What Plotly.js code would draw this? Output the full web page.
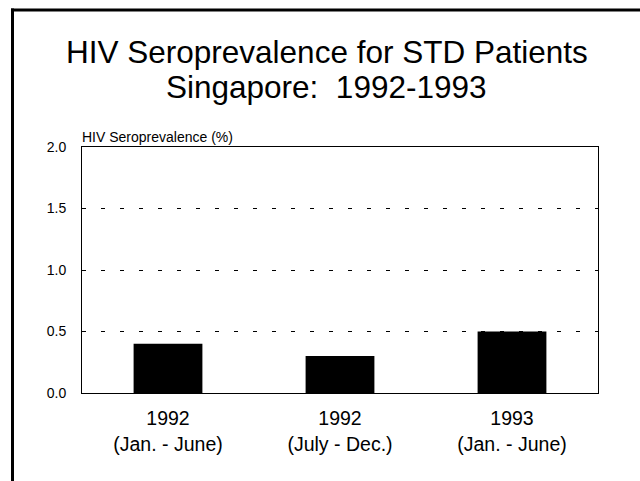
<!DOCTYPE html>
<html>
<head>
<meta charset="utf-8">
<script src="https://cdn.plot.ly/plotly-3.0.1.min.js"></script>
<style>html,body{margin:0;padding:0;background:#fff;}#chart{width:640px;height:481px;}</style>
</head>
<body>
<div id="chart"></div>
<script>
var categories = ["1992<br>(Jan. - June)", "1992<br>(July - Dec.)", "1993<br>(Jan. - June)"];
var seroprevalence = [0.4, 0.3, 0.5];
var yTickVals = [0.0, 0.5, 1.0, 1.5, 2.0];
var titleLine1 = "HIV Seroprevalence for STD Patients";
var titleLine2 = "Singapore:  1992-1993";
var yAxisTitle = "HIV Seroprevalence (%)";

var W = 640, H = 481;
var M = {l: 82, r: 42, t: 147, b: 88};
var pw = W - M.l - M.r, ph = H - M.t - M.b;
function px(x){ return (x - M.l) / pw; }
function py(y){ return (H - M.b - y) / ph; }

var FONT = "Arial, 'Liberation Sans', Helvetica, sans-serif";

var trace = {
  type: "bar",
  x: [0, 1, 2],
  y: seroprevalence,
  width: 0.4,
  marker: {color: "#000000", line: {color: "#000000", width: 0}},
  hoverinfo: "skip"
};

var layout = {
  width: W, height: H,
  margin: M,
  paper_bgcolor: "#fff",
  plot_bgcolor: "#fff",
  showlegend: false,
  font: {family: FONT, color: "#000"},
  xaxis: {
    range: [-0.5, 2.5],
    tickvals: [0, 1, 2],
    ticktext: categories,
    showgrid: false,
    zeroline: false,
    showline: true, mirror: true, linecolor: "#000", linewidth: 1,
    ticks: "",
    ticklabelstandoff: 8,
    tickfont: {family: FONT, size: 19.5, color: "#000"}
  },
  yaxis: {
    range: [0, 2],
    tickvals: yTickVals,
    tickformat: ".1f",
    showgrid: true, gridcolor: "#000", gridwidth: 1, griddash: "4px,15px",
    zeroline: false,
    showline: true, mirror: true, linecolor: "#000", linewidth: 1,
    ticks: "",
    ticklabelstandoff: 12,
    tickfont: {family: FONT, size: 14, color: "#000"}
  },
  annotations: [
    {text: titleLine1, xref: "paper", yref: "paper", x: px(326.5), y: py(52), xanchor: "center", yanchor: "middle", showarrow: false, font: {family: FONT, size: 31.5, color: "#000"}},
    {text: titleLine2, xref: "paper", yref: "paper", x: px(326.5), y: py(87), xanchor: "center", yanchor: "middle", showarrow: false, font: {family: FONT, size: 31.5, color: "#000"}},
    {text: yAxisTitle, xref: "paper", yref: "paper", x: px(80), y: py(137), xanchor: "left", yanchor: "middle", showarrow: false, font: {family: FONT, size: 14, color: "#000"}}
  ],
  shapes: [
    {type: "line", xref: "paper", yref: "paper", x0: px(12.5), x1: px(12.5), y0: py(8.5), y1: py(H + 5), line: {color: "#000", width: 3}},
    {type: "line", xref: "paper", yref: "paper", x0: px(11), x1: px(W + 5), y0: py(10), y1: py(10), line: {color: "#000", width: 3}}
  ]
};

Plotly.newPlot("chart", [trace], layout, {staticPlot: true, displayModeBar: false});
</script>
</body>
</html>
